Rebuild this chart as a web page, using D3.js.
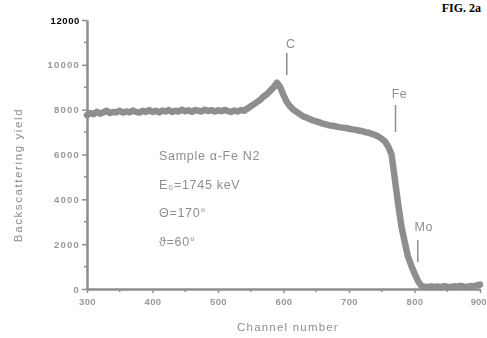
<!DOCTYPE html>
<html>
<head>
<meta charset="UTF-8">
<script src="https://d3js.org/d3.v7.min.js"></script>
<style>
  body { margin: 0; background: #fff; overflow: hidden; }
  svg { display: block; font-family: 'Liberation Sans', Arial, sans-serif; }
</style>
</head>
<body>
<svg id="chart" width="487" height="338"></svg>
<script>
// channels (every 5) and backscattering yield
const channels = d3.range(300, 905, 5);
const yieldValues = [
  7750, 7850, 7800, 7900, 7820, 7880, 7950, 7850, 7900, 7880,
  7950, 7870, 7920, 7880, 7960, 7900, 7870, 7950, 7900, 7980,
  7900, 7950, 7880, 7960, 7920, 7980, 7900, 7950, 7920, 8000,
  7930, 7970, 7900, 7980, 7950, 7920, 8000, 7940, 7980, 7920,
  7970, 7930, 7990, 7940, 7900, 7960, 7920, 7980, 7950, 8050,
  8150, 8250, 8350, 8450, 8600, 8700, 8850, 9000, 9200, 9000,
  8650, 8350, 8150, 8000, 7900, 7800, 7700, 7650, 7580, 7520,
  7480, 7430, 7380, 7340, 7300, 7280, 7250, 7220, 7200, 7180,
  7150, 7120, 7100, 7070, 7040, 7000, 6970, 6920, 6870, 6800,
  6700, 6580, 6350, 6000, 4900, 3800, 2800, 2100, 1450, 1050,
  700, 380, 150, 100, 80, 120, 90, 110, 80, 130,
  100, 90, 120, 100, 140, 110, 90, 130, 120, 160,
  200
];
const xTicks = [300, 400, 500, 600, 700, 800, 900];
const yTicks = [0, 2000, 4000, 6000, 8000, 10000, 12000];
const elements = ["C", "Fe", "Mo"];
const elementChannels = [605, 771, 805];
const infoLines = ["Sample \u03b1-Fe N2", "E\u2080=1745 keV", "\u0398=170\u00b0", "\u03d1=60\u00b0"];

const grey = "#8e8e8e";
const svg = d3.select("#chart");

const x = d3.scaleLinear().domain([300, 900]).range([87, 480]);
const y = d3.scaleLinear().domain([0, 12000]).range([289, 20]);

svg.append("defs").append("filter").attr("id", "soft")
  .append("feGaussianBlur").attr("stdDeviation", 0.45);
const g = svg.append("g").attr("filter", "url(#soft)");

// minor ticks
g.append("g").selectAll("line").data(d3.range(1000, 12000, 2000)).join("line")
  .attr("x1", 84).attr("x2", 87).attr("y1", d => y(d)).attr("y2", d => y(d))
  .attr("stroke", grey).attr("stroke-width", 1.5);
g.append("g").selectAll("line").data(d3.range(350, 900, 100)).join("line")
  .attr("x1", d => x(d)).attr("x2", d => x(d)).attr("y1", 289).attr("y2", 292)
  .attr("stroke", grey).attr("stroke-width", 1.5);

// axes
const xAxis = g.append("g").attr("transform", "translate(0,289)")
  .call(d3.axisBottom(x).tickValues(xTicks).tickSize(4).tickSizeOuter(0));
const yAxis = g.append("g").attr("transform", "translate(87,0)")
  .call(d3.axisLeft(y).tickValues(yTicks).tickSize(5).tickSizeOuter(0).tickFormat(d3.format("d")));
[xAxis, yAxis].forEach(a => {
  a.select(".domain").attr("stroke", grey).attr("stroke-width", 2.5);
  a.selectAll(".tick line").attr("stroke", grey).attr("stroke-width", 1.5);
  a.selectAll(".tick text").attr("fill", "#999").attr("font-weight", "bold")
    .attr("font-family", "'Liberation Sans', Arial, sans-serif");
});
xAxis.selectAll(".tick text").attr("dy", "0.95em").attr("font-size", 9.5).attr("letter-spacing", 0.4);
xAxis.selectAll(".tick text").filter(d => d === 900)
  .attr("text-anchor", "end").attr("x", 6).attr("letter-spacing", 0);
yAxis.selectAll(".tick text").attr("font-size", 9.5).attr("letter-spacing", 1.2).attr("x", -7);
yAxis.selectAll(".tick text")
  .filter(d => d === 12000)
  .attr("fill", "#000").attr("letter-spacing", 0.6);

// spectrum
g.append("path")
  .datum(channels.map((c, i) => [c, yieldValues[i]]))
  .attr("fill", "none")
  .attr("stroke", grey)
  .attr("stroke-width", 6.5)
  .attr("stroke-linejoin", "round")
  .attr("stroke-linecap", "round")
  .attr("d", d3.line().x(d => x(d[0])).y(d => y(d[1])));

// element markers
const labelY = [43, 93, 226];
const arrowY = [[53, 75], [105, 132], [240, 262]];
const mk = g.append("g").selectAll("g").data(elements).join("g");
mk.append("text")
  .attr("x", (d, i) => x(elementChannels[i]) + (i === 2 ? 6 : 4))
  .attr("y", (d, i) => labelY[i] + 5)
  .attr("text-anchor", "middle")
  .attr("font-size", 12.5).attr("fill", grey).attr("letter-spacing", 0.5)
  .text(d => d);
mk.append("line")
  .attr("x1", (d, i) => x(elementChannels[i])).attr("x2", (d, i) => x(elementChannels[i]))
  .attr("y1", (d, i) => arrowY[i][0]).attr("y2", (d, i) => arrowY[i][1])
  .attr("stroke", grey).attr("stroke-width", 1.5);

// sample info
g.append("g").selectAll("text").data(infoLines).join("text")
  .attr("x", 159).attr("y", (d, i) => 160 + i * 28.5)
  .attr("font-size", 12.5).attr("fill", grey).attr("letter-spacing", 0.7)
  .text(d => d);

// axis titles
g.append("text")
  .attr("x", 288).attr("y", 331).attr("text-anchor", "middle")
  .attr("font-size", 11.5).attr("fill", grey).attr("letter-spacing", 1.2)
  .text("Channel number");
g.append("text")
  .attr("transform", "translate(22,175) rotate(-90)").attr("text-anchor", "middle")
  .attr("font-size", 11.5).attr("fill", grey).attr("letter-spacing", 1.6)
  .text("Backscattering yield");

// figure tag
svg.append("text")
  .attr("x", 481).attr("y", 12).attr("text-anchor", "end")
  .attr("font-family", "'Liberation Serif', serif").attr("font-weight", "bold")
  .attr("font-size", 12).attr("fill", "#000")
  .text("FIG. 2a");
</script>
</body>
</html>
